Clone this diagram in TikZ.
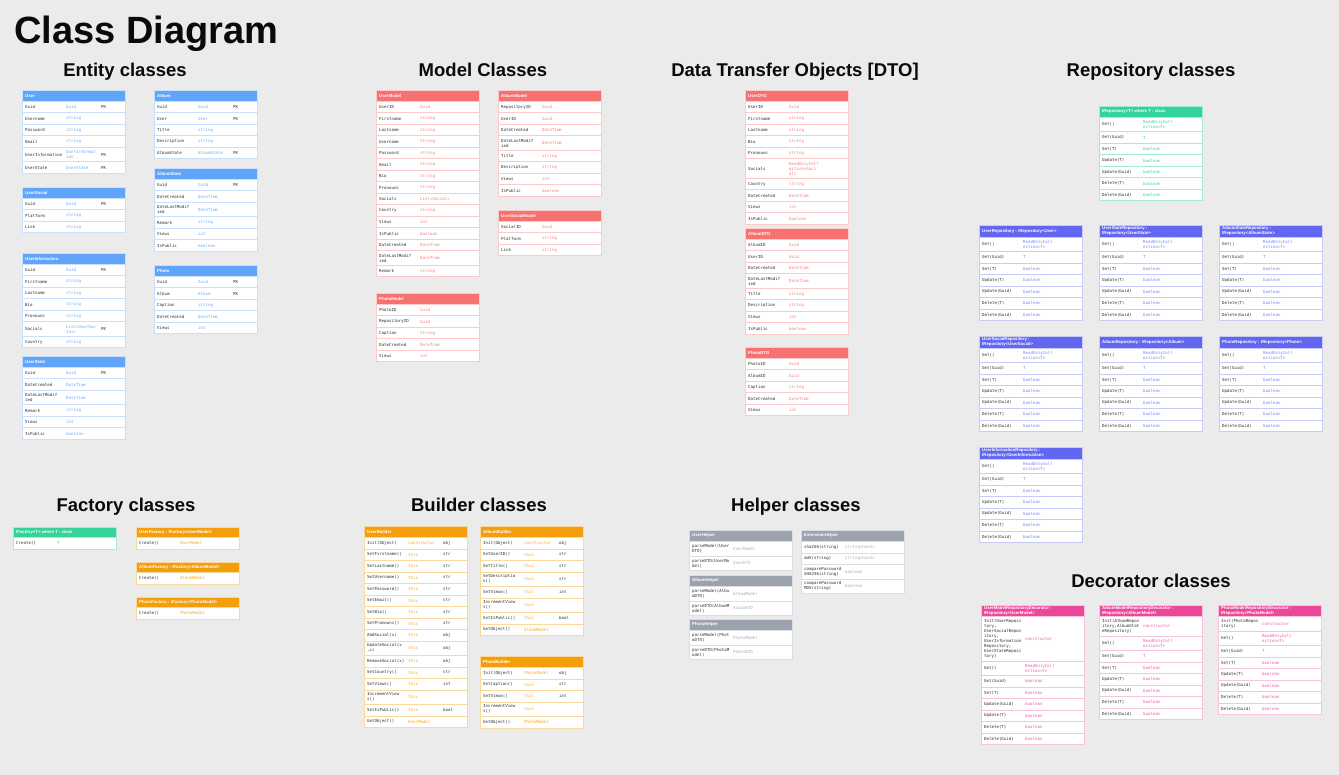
\documentclass[tikz,border=0pt]{standalone}
\usepackage{fontspec}
\setmainfont{Liberation Sans}
\setmonofont{DejaVu Sans Mono}
\definecolor{bg}{HTML}{EBEBEB}
\definecolor{namegray}{HTML}{2E2E2E}
\definecolor{titleblack}{HTML}{0A0A0A}
\definecolor{bluemain}{HTML}{60A5FA}\definecolor{blueline}{HTML}{C9DFFB}\definecolor{bluetype}{HTML}{6AAAF7}
\definecolor{redmain}{HTML}{F87171}\definecolor{redline}{HTML}{FBCACA}\definecolor{redtype}{HTML}{F47E7E}
\definecolor{greenmain}{HTML}{34D399}\definecolor{greenline}{HTML}{A7EBCF}\definecolor{greentype}{HTML}{34D399}
\definecolor{indigomain}{HTML}{6366F1}\definecolor{indigoline}{HTML}{C7CBF7}\definecolor{indigotype}{HTML}{7C83F3}
\definecolor{orangemain}{HTML}{F59E0B}\definecolor{orangeline}{HTML}{F9D9A0}\definecolor{orangetype}{HTML}{F5A623}
\definecolor{graymain}{HTML}{9CA3AF}\definecolor{grayline}{HTML}{DADDE2}\definecolor{graytype}{HTML}{A8ADB5}
\definecolor{pinkmain}{HTML}{EC4899}\definecolor{pinkline}{HTML}{F7C4DD}\definecolor{pinktype}{HTML}{EE5BA6}
\tikzset{
  hdrtext/.style={anchor=west, inner sep=0pt, text=white, font=\bfseries\fontsize{4.3}{5}\selectfont, align=left},
  celltext/.style={anchor=west, inner sep=0pt, text=namegray, font=\ttfamily\fontsize{4.1}{5}\selectfont, align=left},
  sectiontitle/.style={anchor=base, inner sep=0pt, text=titleblack, font=\bfseries\fontsize{18.5}{20}\selectfont},
  tblline/.style={line width=0.6pt},
}
\newcounter{rowc}
\newcommand\tbl[6]{%
  \xdef\tId{#1}\xdef\tX{#2}\xdef\tTop{#3}\xdef\cLine{#4line}\xdef\cType{#4type}%
  \fill[#4main] (#2,#3) rectangle ++(103,#5);
  \node[hdrtext] (#1) at (#2+3,#3+#5/2) {#6};
  \pgfmathsetmacro\tmpY{#3+#5}\xdef\tY{\tmpY}%
  \setcounter{rowc}{0}%
}
\newcommand\trow[4]{%
  \stepcounter{rowc}%
  \ifnum#1=1 \def\tmpH{11.5}\else\pgfmathsetmacro\tmpH{5*#1+4.5}\fi
  \edef\rn{\tId-\arabic{rowc}}%
  \draw[tblline, draw=\cLine, fill=white] (\tX,\tY) rectangle ++(103,\tmpH);
  \node[celltext] (\rn-n) at (\tX+3,\tY+\tmpH/2) {#2};
  \node[celltext, text=\cType] (\rn-t) at (\tX+44,\tY+\tmpH/2) {#3};
  \if\relax\detokenize{#4}\relax\else
  \node[celltext] (\rn-x) at (\tX+79,\tY+\tmpH/2) {#4};
  \fi
  \pgfmathsetmacro\tmpY{\tY+\tmpH}\xdef\tY{\tmpY}%
}
\newcommand\tblend{\draw[tblline, draw=\cLine] (\tX,\tTop) rectangle (\tX+103,\tY);}
\newcommand\reporows{%
  \trow{2}{Get()}{ReadOnlyColl\\ection<T>}{}
  \trow{1}{Get(Guid)}{T}{}
  \trow{1}{Set(T)}{boolean}{}
  \trow{1}{Update(T)}{boolean}{}
  \trow{1}{Update(Guid)}{boolean}{}
  \trow{1}{Delete(T)}{boolean}{}
  \trow{1}{Delete(Guid)}{boolean}{}
}
\begin{document}
\begin{tikzpicture}[x=1pt,y=-1pt]
\useasboundingbox (0,0) rectangle (1339,775);
\fill[bg] (0,0) rectangle (1339,775);

\node[anchor=base west, inner sep=0pt, text=titleblack, font=\bfseries\fontsize{38}{40}\selectfont] (title) at (14,44) {Class Diagram};
\node[sectiontitle] (s-entity) at (125,77) {Entity classes};
\node[sectiontitle] (s-model) at (483,77) {Model Classes};
\node[sectiontitle] (s-dto) at (795,77) {Data Transfer Objects [DTO]};
\node[sectiontitle] (s-repo) at (1151,77) {Repository classes};
\node[sectiontitle] (s-factory) at (126,511) {Factory classes};
\node[sectiontitle] (s-builder) at (479,511) {Builder classes};
\node[sectiontitle] (s-helper) at (796,511) {Helper classes};
\node[sectiontitle] (s-deco) at (1151,587) {Decorator classes};

% ---------------- Entity classes
\tbl{e-user}{22}{90}{blue}{11.3}{User}
\trow{1}{Guid}{Guid}{PK}
\trow{1}{Username}{string}{}
\trow{1}{Password}{string}{}
\trow{1}{Email}{string}{}
\trow{2}{UserInformation}{UserInformat\\ion}{PK}
\trow{1}{UserState}{UserState}{PK}
\tblend

\tbl{e-usersocial}{22}{187}{blue}{11.3}{UserSocial}
\trow{1}{Guid}{Guid}{PK}
\trow{1}{Platform}{string}{}
\trow{1}{Link}{string}{}
\tblend

\tbl{e-userinfo}{22}{253}{blue}{11.3}{UserInformation}
\trow{1}{Guid}{Guid}{PK}
\trow{1}{Firstname}{string}{}
\trow{1}{Lastname}{string}{}
\trow{1}{Bio}{string}{}
\trow{1}{Pronouns}{string}{}
\trow{2}{Socials}{List<UserSoc\\ial>}{PK}
\trow{1}{Country}{string}{}
\tblend

\tbl{e-userstate}{22}{356}{blue}{11.3}{UserState}
\trow{1}{Guid}{Guid}{PK}
\trow{1}{DateCreated}{DateTime}{}
\trow{2}{DateLastModif\\ied}{DateTime}{}
\trow{1}{Remark}{string}{}
\trow{1}{Views}{int}{}
\trow{1}{IsPublic}{boolean}{}
\tblend

\tbl{e-album}{154}{90}{blue}{11.3}{Album}
\trow{1}{Guid}{Guid}{PK}
\trow{1}{User}{User}{PK}
\trow{1}{Title}{string}{}
\trow{1}{Description}{string}{}
\trow{1}{AlbumState}{AlbumState}{PK}
\tblend

\tbl{e-albumstate}{154}{168}{blue}{11.3}{AlbumState}
\trow{1}{Guid}{Guid}{PK}
\trow{1}{DateCreated}{DateTime}{}
\trow{2}{DateLastModif\\ied}{DateTime}{}
\trow{1}{Remark}{string}{}
\trow{1}{Views}{int}{}
\trow{1}{IsPublic}{boolean}{}
\tblend

\tbl{e-photo}{154}{265}{blue}{11.3}{Photo}
\trow{1}{Guid}{Guid}{PK}
\trow{1}{Album}{Album}{PK}
\trow{1}{Caption}{string}{}
\trow{1}{DateCreated}{DateTime}{}
\trow{1}{Views}{int}{}
\tblend

% ---------------- Model classes
\tbl{m-user}{376}{90}{red}{11.3}{UserModel}
\trow{1}{UserID}{Guid}{}
\trow{1}{Firstname}{string}{}
\trow{1}{Lastname}{string}{}
\trow{1}{Username}{string}{}
\trow{1}{Password}{string}{}
\trow{1}{Email}{string}{}
\trow{1}{Bio}{string}{}
\trow{1}{Pronouns}{string}{}
\trow{1}{Socials}{List<Social>}{}
\trow{1}{Country}{string}{}
\trow{1}{Views}{int}{}
\trow{1}{IsPublic}{boolean}{}
\trow{1}{DateCreated}{DateTime}{}
\trow{2}{DateLastModif\\ied}{DateTime}{}
\trow{1}{Remark}{string}{}
\tblend

\tbl{m-photo}{376}{293}{red}{11.3}{PhotoModel}
\trow{1}{PhotoID}{Guid}{}
\trow{1}{RepositoryID}{Guid}{}
\trow{1}{Caption}{string}{}
\trow{1}{DateCreated}{DateTime}{}
\trow{1}{Views}{int}{}
\tblend

\tbl{m-album}{498}{90}{red}{11.3}{AlbumModel}
\trow{1}{RepositoryID}{Guid}{}
\trow{1}{UserID}{Guid}{}
\trow{1}{DateCreated}{DateTime}{}
\trow{2}{DateLastModif\\ied}{DateTime}{}
\trow{1}{Title}{string}{}
\trow{1}{Description}{string}{}
\trow{1}{Views}{int}{}
\trow{1}{IsPublic}{boolean}{}
\tblend

\tbl{m-usersocial}{498}{210}{red}{11.3}{UserSocialModel}
\trow{1}{SocialID}{Guid}{}
\trow{1}{Platform}{string}{}
\trow{1}{Link}{string}{}
\tblend

% ---------------- DTO
\tbl{d-user}{745}{90}{red}{11.3}{UserDTO}
\trow{1}{UserID}{Guid}{}
\trow{1}{Firstname}{string}{}
\trow{1}{Lastname}{string}{}
\trow{1}{Bio}{string}{}
\trow{1}{Pronouns}{string}{}
\trow{3}{Socials}{ReadOnlyColl\\ection<Soci\\al>}{}
\trow{1}{Country}{string}{}
\trow{1}{DateCreated}{DateTime}{}
\trow{1}{Views}{int}{}
\trow{1}{IsPublic}{boolean}{}
\tblend

\tbl{d-album}{745}{228}{red}{11.3}{AlbumDTO}
\trow{1}{AlbumID}{Guid}{}
\trow{1}{UserID}{Guid}{}
\trow{1}{DateCreated}{DateTime}{}
\trow{2}{DateLastModif\\ied}{DateTime}{}
\trow{1}{Title}{string}{}
\trow{1}{Description}{string}{}
\trow{1}{Views}{int}{}
\trow{1}{IsPublic}{boolean}{}
\tblend

\tbl{d-photo}{745}{347}{red}{11.3}{PhotoDTO}
\trow{1}{PhotoID}{Guid}{}
\trow{1}{AlbumID}{Guid}{}
\trow{1}{Caption}{string}{}
\trow{1}{DateCreated}{DateTime}{}
\trow{1}{Views}{int}{}
\tblend

% ---------------- Repository classes
\tbl{r-base}{1099}{106}{green}{11.3}{IRepository<T> where T : class}
\reporows
\tblend

\tbl{r-user}{979}{225}{indigo}{12}{UserRepository : IRepository<User>}
\reporows
\tblend
\tbl{r-userstate}{1099}{225}{indigo}{12}{UserStateRepository :\\IRepository<UserState>}
\reporows
\tblend
\tbl{r-albumstate}{1219}{225}{indigo}{12}{AlbumStateRepository :\\IRepository<AlbumState>}
\reporows
\tblend

\tbl{r-usersocial}{979}{336}{indigo}{12}{UserSocialRepository :\\IRepository<UserSocial>}
\reporows
\tblend
\tbl{r-album}{1099}{336}{indigo}{12}{AlbumRepository : IRepository<Album>}
\reporows
\tblend
\tbl{r-photo}{1219}{336}{indigo}{12}{PhotoRepository : IRepository<Photo>}
\reporows
\tblend

\tbl{r-userinfo}{979}{447}{indigo}{12}{UserInformationRepository :\\IRepository<UserInformation>}
\reporows
\tblend

% ---------------- Factory classes
\tbl{f-base}{13}{527}{green}{10.5}{IFactory<T> where T : class}
\trow{1}{Create()}{T}{}
\tblend
\tbl{f-user}{136}{527}{orange}{10.5}{UserFactory : IFactory<UserModel>}
\trow{1}{Create()}{UserModel}{}
\tblend
\tbl{f-album}{136}{562}{orange}{10.5}{AlbumFactory : IFactory<AlbumModel>}
\trow{1}{Create()}{AlbumModel}{}
\tblend
\tbl{f-photo}{136}{597}{orange}{10.5}{PhotoFactory : IFactory<PhotoModel>}
\trow{1}{Create()}{PhotoModel}{}
\tblend

% ---------------- Builder classes
\tbl{b-user}{364}{526}{orange}{11.3}{UserBuilder}
\trow{1}{Init(Object)}{constructor}{obj}
\trow{1}{SetFirstname()}{this}{str}
\trow{1}{SetLastname()}{this}{str}
\trow{1}{SetUsername()}{this}{str}
\trow{1}{SetPassword()}{this}{str}
\trow{1}{SetEmail()}{this}{str}
\trow{1}{SetBio()}{this}{str}
\trow{1}{SetPronouns()}{this}{str}
\trow{1}{AddSocial(x)}{this}{obj}
\trow{2}{UpdateSocial(x\\,x)}{this}{obj}
\trow{1}{RemoveSocial(x)}{this}{obj}
\trow{1}{SetCountry()}{this}{str}
\trow{1}{SetViews()}{this}{int}
\trow{2}{IncrementView\\s()}{this}{}
\trow{1}{SetIsPublic()}{this}{bool}
\trow{1}{GetObject()}{UserModel}{}
\tblend

\tbl{b-album}{480}{526}{orange}{11.3}{AlbumBuilder}
\trow{1}{Init(Object)}{constructor}{obj}
\trow{1}{SetUserID()}{this}{str}
\trow{1}{SetTitle()}{this}{str}
\trow{2}{SetDescriptio\\n()}{this}{str}
\trow{1}{SetViews()}{this}{int}
\trow{2}{IncrementView\\s()}{this}{}
\trow{1}{SetIsPublic()}{this}{bool}
\trow{1}{GetObject()}{AlbumModel}{}
\tblend

\tbl{b-photo}{480}{656}{orange}{11.3}{PhotoBuilder}
\trow{1}{Init(Object)}{PhotoModel}{obj}
\trow{1}{SetCaption()}{this}{str}
\trow{1}{SetViews()}{this}{int}
\trow{2}{IncrementView\\s()}{this}{}
\trow{1}{GetObject()}{PhotoModel}{}
\tblend

% ---------------- Helper classes
\tbl{h-user}{689}{530}{gray}{11.5}{UserHelper}
\trow{2}{parseModel(User\\DTO)}{UserModel}{}
\trow{2}{parseDTO(UserMo\\del)}{UserDTO}{}
\tblend
\tbl{h-album}{689}{575}{gray}{11.5}{AlbumHelper}
\trow{2}{parseModel(Albu\\mDTO)}{AlbumModel}{}
\trow{2}{parseDTO(AlbumM\\odel)}{AlbumDTO}{}
\tblend
\tbl{h-photo}{689}{619}{gray}{11.5}{PhotoHelper}
\trow{2}{parseModel(Phot\\oDTO)}{PhotoModel}{}
\trow{2}{parseDTO(PhotoM\\odel)}{PhotoDTO}{}
\tblend
\tbl{h-ext}{801}{530}{gray}{11.5}{ExtensionHelper}
\trow{1}{sha256(string)}{string<hash>}{}
\trow{1}{md5(string)}{string<hash>}{}
\trow{2}{comparePassword\\SHA256(string)}{boolean}{}
\trow{2}{comparePassword\\MD5(string)}{boolean}{}
\tblend

% ---------------- Decorator classes
\tbl{c-user}{981}{605}{pink}{11.5}{UserModelRepositoryDecorator :\\IRepository<UserModel>}
\trow{8}{Init(UserReposi\\tory,\\UserSocialRepos\\itory,\\UserInformation\\Repository,\\UserStateReposi\\tory)}{constructor}{}
\trow{2}{Get()}{ReadOnlyColl\\ection<T>}{}
\trow{1}{Get(Guid)}{boolean}{}
\trow{1}{Set(T)}{boolean}{}
\trow{1}{Update(Guid)}{boolean}{}
\trow{1}{Update(T)}{boolean}{}
\trow{1}{Delete(T)}{boolean}{}
\trow{1}{Delete(Guid)}{boolean}{}
\tblend

\tbl{c-album}{1099}{605}{pink}{11.5}{AlbumModelRepositoryDecorator :\\IRepository<AlbumModel>}
\trow{3}{Init(AlbumRepos\\itory,AlbumStat\\eRepository)}{constructor}{}
\trow{2}{Get()}{ReadOnlyColl\\ection<T>}{}
\trow{1}{Get(Guid)}{T}{}
\trow{1}{Set(T)}{boolean}{}
\trow{1}{Update(T)}{boolean}{}
\trow{1}{Update(Guid)}{boolean}{}
\trow{1}{Delete(T)}{boolean}{}
\trow{1}{Delete(Guid)}{boolean}{}
\tblend

\tbl{c-photo}{1218}{605}{pink}{11.5}{PhotoModelRepositoryDecorator :\\IRepository<PhotoModel>}
\trow{2}{Init(PhotoRepos\\itory)}{constructor}{}
\trow{2}{Get()}{ReadOnlyColl\\ection<T>}{}
\trow{1}{Get(Guid)}{T}{}
\trow{1}{Set(T)}{boolean}{}
\trow{1}{Update(T)}{boolean}{}
\trow{1}{Update(Guid)}{boolean}{}
\trow{1}{Delete(T)}{boolean}{}
\trow{1}{Delete(Guid)}{boolean}{}
\tblend
\end{tikzpicture}
\end{document}
